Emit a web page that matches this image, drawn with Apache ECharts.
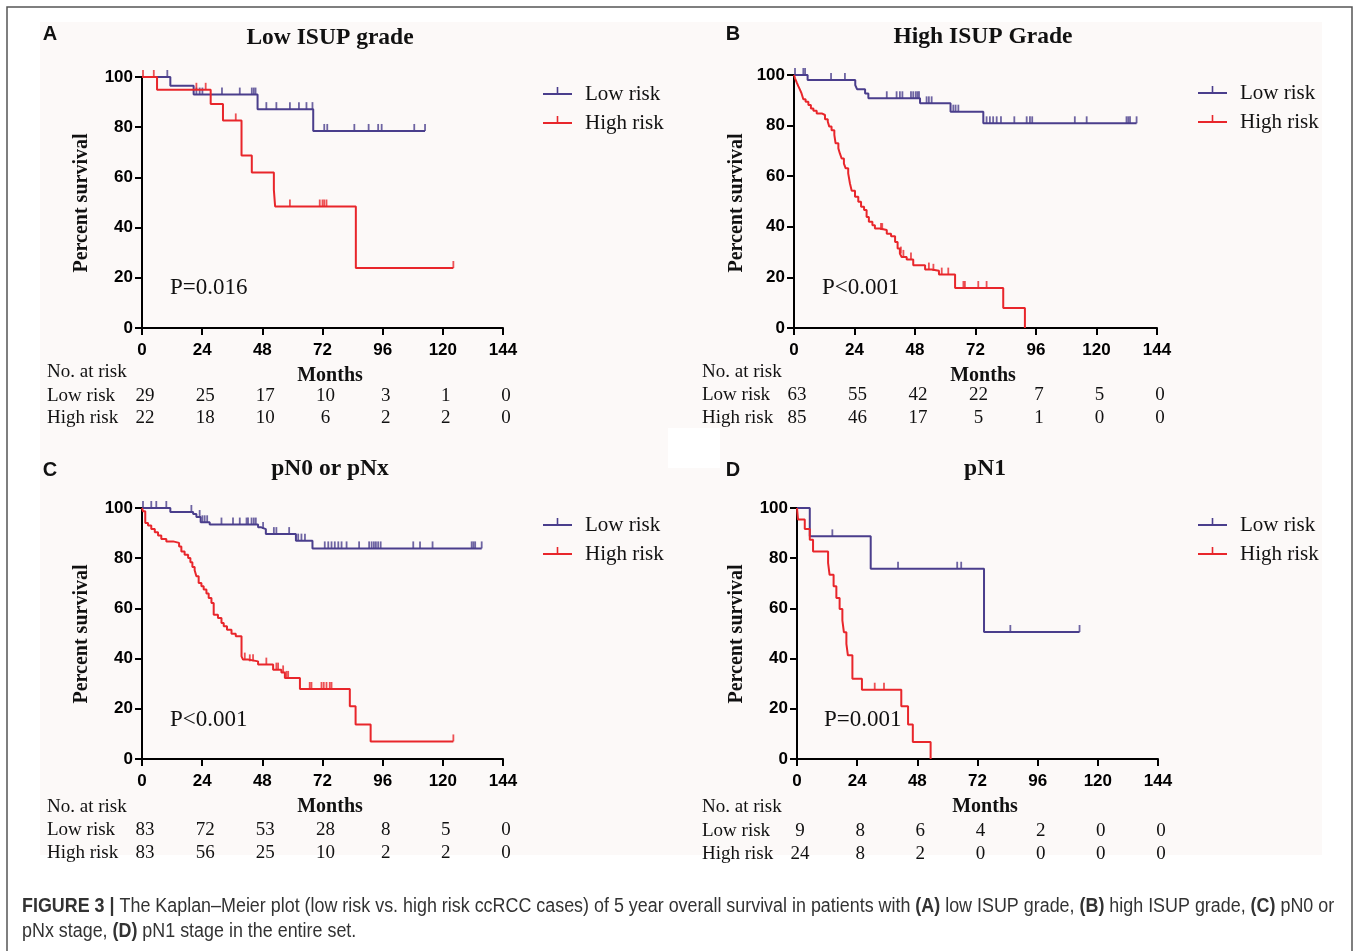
<!DOCTYPE html>
<html>
<head>
<meta charset="utf-8">
<script src="https://cdn.jsdelivr.net/npm/echarts@6/dist/echarts.min.js"></script>
<style>
  html, body { margin: 0; padding: 0; background: #fff; }
  #main { width: 1358px; height: 951px; }
</style>
</head>
<body>
<div id="main"></div>
<script>
// month ticks shared by all four panels
const monthTicks = [0, 24, 48, 72, 96, 120, 144];
const panelTitles = ["Low ISUP grade", "High ISUP Grade", "pN0 or pNx", "pN1"];
const panelLetters = ["A", "B", "C", "D"];
const pValues = ["P=0.016", "P<0.001", "P<0.001", "P=0.001"];

// A - low ISUP grade
const aLowT = [0, 11.3, 20.6, 46.1, 68.3, 112.9];
const aLowS = [100, 96.5, 93.0, 87.2, 78.5, 78.5];
const aLowCens = [10.1, 21.7, 23.0, 24.1, 31.9, 39.0, 43.8, 44.6, 45.3, 49.6, 53.6, 59.0, 62.6, 65.6, 68.0, 72.7, 73.9, 84.7, 90.4, 94.2, 95.6, 108.6, 112.9];
const aHighT = [0, 6.0, 27.4, 32.3, 39.7, 43.8, 52.6, 53.1, 85.3, 124.2];
const aHighS = [100, 94.9, 89.2, 82.7, 68.7, 62.0, 55.0, 48.4, 23.9, 23.9];
const aHighCens = [0.4, 4.7, 21.7, 25.4, 37.4, 59.0, 70.9, 72.0, 72.7, 73.6, 124.2];
const aRiskLow = [29, 25, 17, 10, 3, 1, 0];
const aRiskHigh = [22, 18, 10, 6, 2, 2, 0];

// B - high ISUP grade
const bLowT = [0, 5.4, 24.3, 25.0, 28.2, 29.5, 50.0, 62.1, 75.1, 135.9];
const bLowS = [100, 98.0, 96.0, 94.4, 92.7, 90.8, 88.8, 85.5, 80.9, 80.9];
const bLowCens = [0.4, 3.7, 4.4, 14.7, 20.2, 36.8, 40.7, 42.0, 43.0, 46.4, 47.3, 48.3, 49.0, 49.6, 52.6, 53.5, 54.6, 63.2, 64.1, 65.2, 76.4, 77.7, 79.0, 80.4, 82.1, 87.4, 92.3, 93.6, 94.5, 111.4, 116.1, 131.9, 132.6, 133.3, 135.9];
const bHighT = [0, 0.4, 1.1, 1.7, 2.4, 3.0, 3.7, 4.6, 5.7, 6.7, 7.7, 9.0, 11.0, 12.3, 13.4, 14.0, 14.9, 16.0, 16.5, 17.6, 18.2, 18.9, 19.8, 20.5, 21.5, 22.2, 22.9, 24.2, 25.5, 26.6, 27.8, 28.8, 29.7, 31.1, 32.1, 34.1, 36.8, 38.5, 40.1, 41.1, 42.0, 42.7, 44.7, 47.3, 52.0, 54.6, 57.5, 63.9, 83.0, 91.6];
const bHighS = [100, 98.7, 97.0, 95.6, 94.1, 92.7, 90.4, 89.4, 88.1, 86.8, 85.9, 84.8, 84.2, 82.5, 81.5, 79.6, 78.2, 76.3, 73.0, 71.0, 69.0, 67.0, 65.0, 63.1, 61.1, 57.1, 54.2, 51.9, 49.9, 47.9, 46.6, 43.9, 42.0, 40.6, 39.3, 38.7, 37.3, 36.3, 34.0, 31.4, 29.4, 28.1, 27.1, 24.8, 23.1, 22.6, 21.1, 15.8, 7.9, 0];
const bHighCens = [34.5, 35.0, 42.4, 43.4, 46.4, 53.5, 55.3, 58.6, 61.2, 67.2, 67.8, 73.1, 76.4];
const bRiskLow = [63, 55, 42, 22, 7, 5, 0];
const bRiskHigh = [85, 46, 17, 5, 1, 0, 0];

// C - pN0 or pNx
const cLowT = [0, 11.3, 20.4, 21.7, 23.4, 27.0, 46.3, 47.6, 49.4, 61.4, 68.0, 135.5];
const cLowS = [100, 98.4, 97.6, 96.4, 94.3, 93.4, 92.3, 91.6, 89.6, 87.0, 83.9, 83.9];
const cLowCens = [0.4, 3.7, 5.7, 9.7, 19.7, 23.0, 24.1, 25.0, 26.0, 31.7, 36.3, 39.0, 41.7, 42.3, 43.7, 44.6, 45.4, 48.3, 52.6, 53.6, 58.7, 62.3, 63.6, 65.0, 72.9, 74.3, 75.6, 76.9, 78.3, 79.6, 81.6, 86.6, 90.6, 91.6, 92.5, 93.3, 94.2, 95.2, 108.2, 110.9, 115.9, 131.5, 132.2, 132.9, 135.5];
const cHighT = [0, 0.4, 1.3, 2.4, 3.7, 5.1, 6.4, 7.7, 9.7, 12.4, 14.8, 15.7, 17.0, 18.4, 19.3, 20.1, 21.0, 21.7, 22.6, 23.7, 24.6, 25.7, 26.6, 27.7, 28.6, 30.3, 31.7, 32.6, 33.9, 35.7, 37.4, 39.7, 40.3, 42.3, 46.3, 52.3, 55.6, 57.0, 63.0, 82.9, 85.2, 91.2, 124.2];
const cHighS = [100, 98.7, 94.0, 93.0, 91.6, 90.3, 89.0, 87.6, 86.7, 86.1, 84.7, 82.7, 81.4, 80.1, 78.4, 76.5, 75.2, 72.8, 70.1, 68.8, 67.5, 65.9, 64.1, 62.2, 57.5, 56.2, 54.2, 52.9, 51.5, 49.9, 48.9, 40.9, 39.6, 38.9, 37.6, 35.6, 34.5, 32.3, 27.9, 21.0, 13.7, 7.0, 7.0];
const cHighCens = [41.0, 43.0, 44.3, 49.6, 53.6, 54.3, 56.3, 57.6, 58.3, 66.9, 67.6, 71.6, 72.5, 73.6, 74.9, 75.6, 124.2];
const cRiskLow = [83, 72, 53, 28, 8, 5, 0];
const cRiskHigh = [83, 56, 25, 10, 2, 2, 0];

// D - pN1
const dLowT = [0, 5.1, 29.4, 74.6, 112.7];
const dLowS = [100, 88.7, 75.8, 50.6, 50.6];
const dLowCens = [14.1, 40.3, 63.9, 65.5, 85.1, 112.7];
const dHighT = [0, 0.4, 3.1, 5.1, 6.4, 12.4, 13.0, 14.6, 15.7, 17.0, 18.1, 18.7, 19.7, 20.3, 22.1, 25.9, 41.6, 44.3, 46.2, 53.3];
const dHighS = [100, 95.4, 91.6, 87.4, 82.7, 78.1, 73.4, 68.8, 64.1, 59.8, 55.2, 50.5, 45.9, 41.3, 32.0, 27.6, 21.0, 13.7, 6.8, 0];
const dHighCens = [31.0, 34.7];
const dRiskLow = [9, 8, 6, 4, 2, 0, 0];
const dRiskHigh = [24, 8, 2, 0, 0, 0, 0];

const panels = [
  { low: [aLowT, aLowS, aLowCens], high: [aHighT, aHighS, aHighCens], risk: [aRiskLow, aRiskHigh] },
  { low: [bLowT, bLowS, bLowCens], high: [bHighT, bHighS, bHighCens], risk: [bRiskLow, bRiskHigh] },
  { low: [cLowT, cLowS, cLowCens], high: [cHighT, cHighS, cHighCens], risk: [cRiskLow, cRiskHigh] },
  { low: [dLowT, dLowS, dLowCens], high: [dHighT, dHighS, dHighCens], risk: [dRiskLow, dRiskHigh] },
];

const BLUE = "#4a3e8c";
const RED = "#e8262b";
const SERIF = "'Liberation Serif', 'Times New Roman', serif";
const SANS = "'Liberation Sans', Arial, sans-serif";

const grids = [
  { left: 142, top: 77, width: 361, height: 251 },
  { left: 794, top: 75, width: 363, height: 253 },
  { left: 142, top: 508, width: 361, height: 251 },
  { left: 797, top: 508, width: 361, height: 251 },
];

// where the texts of each panel sit
const layout = [
  { letter: [50, 34], title: [330, 38], legX: 543, legY: [94, 123], p: [170, 288], ylab: [82, 203], months: [330, 376], riskY: [372, 396, 418], riskX: 47 },
  { letter: [733, 34], title: [983, 37], legX: 1198, legY: [93, 122], p: [822, 288], ylab: [737, 203], months: [983, 376], riskY: [372, 395, 418], riskX: 702 },
  { letter: [50, 470], title: [330, 469], legX: 543, legY: [525, 554], p: [170, 720], ylab: [82, 634], months: [330, 807], riskY: [807, 830, 853], riskX: 47 },
  { letter: [733, 470], title: [985, 469], legX: 1198, legY: [525, 554], p: [824, 720], ylab: [737, 634], months: [985, 807], riskY: [807, 831, 854], riskX: 702 },
];

function levelAt(T, S, t) {
  let v = S[0];
  for (let i = 0; i < T.length; i++) if (T[i] <= t) v = S[i];
  return v;
}

const xAxes = [], yAxes = [], series = [];
grids.forEach((g, i) => {
  xAxes.push({
    gridIndex: i, type: "value", min: 0, max: 144, interval: 24,
    axisLine: { show: true, onZero: false, lineStyle: { color: "#000", width: 2 } },
    axisTick: { show: true, inside: false, length: 7, lineStyle: { color: "#000", width: 2 } },
    axisLabel: { color: "#000", fontFamily: SANS, fontWeight: "bold", fontSize: 17, margin: 14 },
    splitLine: { show: false },
  });
  yAxes.push({
    gridIndex: i, type: "value", min: 0, max: 100, interval: 20,
    axisLine: { show: true, onZero: false, lineStyle: { color: "#000", width: 2 } },
    axisTick: { show: true, inside: false, length: 7, lineStyle: { color: "#000", width: 2 } },
    axisLabel: { color: "#000", fontFamily: SANS, fontWeight: "bold", fontSize: 17, margin: 9 },
    splitLine: { show: false },
  });
  const p = panels[i];
  [[p.low, BLUE], [p.high, RED]].forEach(([c, col]) => {
    const [T, S, C] = c;
    series.push({
      type: "line", step: "end", xAxisIndex: i, yAxisIndex: i,
      data: T.map((t, k) => [t, S[k]]),
      showSymbol: false, clip: false, silent: true,
      lineStyle: { color: col, width: 2 },
      z: col === RED ? 4 : 3,
    });
    series.push({
      type: "scatter", xAxisIndex: i, yAxisIndex: i,
      data: C.map(t => [t, levelAt(T, S, t)]),
      symbol: "rect", symbolSize: [1.8, 7], symbolOffset: [0, -3.5],
      itemStyle: { color: col }, clip: false, silent: true,
      z: col === RED ? 4 : 3,
    });
  });
});

const graphic = [
  { type: "rect", shape: { x: 40, y: 22, width: 1282, height: 833 }, style: { fill: "#fcf9f8" }, z: -10 },
  { type: "rect", shape: { x: 668, y: 428, width: 52, height: 40 }, style: { fill: "#ffffff" }, z: -9 },
  { type: "rect", shape: { x: 7, y: 7, width: 1345, height: 960 }, style: { fill: "none", stroke: "#555", lineWidth: 1.5 }, z: -8 },
];

layout.forEach((L, i) => {
  const txt = (x, y, text, font, align) => graphic.push({
    type: "text", x, y,
    style: { text, font, fill: "#111", textAlign: align || "left", textVerticalAlign: "middle" },
  });
  txt(L.letter[0], L.letter[1], panelLetters[i], "bold 20px " + SANS, "center");
  txt(L.title[0], L.title[1], panelTitles[i], "bold 23.5px " + SERIF, "center");
  txt(L.p[0], L.p[1], pValues[i], "23px " + SERIF);
  txt(L.months[0], L.months[1], "Months", "bold 20px " + SERIF, "center");
  graphic.push({
    type: "text", x: L.ylab[0], y: L.ylab[1], rotation: Math.PI / 2,
    style: { text: "Percent survival", font: "bold 20px " + SERIF, fill: "#111", textAlign: "center", textVerticalAlign: "middle" },
  });
  // legend
  ["Low risk", "High risk"].forEach((name, k) => {
    const col = k === 0 ? BLUE : RED;
    const y = L.legY[k];
    graphic.push({ type: "line", shape: { x1: L.legX, y1: y, x2: L.legX + 29, y2: y }, style: { stroke: col, lineWidth: 2 } });
    graphic.push({ type: "line", shape: { x1: L.legX + 14.5, y1: y, x2: L.legX + 14.5, y2: y - 7 }, style: { stroke: col, lineWidth: 1.6 } });
    txt(L.legX + 42, y, name, "21px " + SERIF);
  });
  // number at risk labels
  txt(L.riskX, L.riskY[0], "No. at risk", "19px " + SERIF);
  txt(L.riskX, L.riskY[1], "Low risk", "19px " + SERIF);
  txt(L.riskX, L.riskY[2], "High risk", "19px " + SERIF);
});

// caption (condensed with scaleX, narrow sans is not installed)
const capFont = "20px " + SANS;
const capBold = { b: { font: "bold 20px " + SANS, fill: "#333" } };
graphic.push({
  type: "text", x: 22, y: 906, scaleX: 0.895,
  style: {
    text: "{b|FIGURE 3 |} The Kaplan\u2013Meier plot (low risk vs. high risk ccRCC cases) of 5 year overall survival in patients with {b|(A)} low ISUP grade, {b|(B)} high ISUP grade, {b|(C)} pN0 or",
    font: capFont, fill: "#333", textVerticalAlign: "middle", rich: capBold,
  },
});
graphic.push({
  type: "text", x: 22, y: 931, scaleX: 0.895,
  style: {
    text: "pNx stage, {b|(D)} pN1 stage in the entire set.",
    font: capFont, fill: "#333", textVerticalAlign: "middle", rich: capBold,
  },
});

const chart = echarts.init(document.getElementById("main"));
chart.setOption({
  animation: false,
  backgroundColor: "#fff",
  grid: grids,
  xAxis: xAxes,
  yAxis: yAxes,
  series,
  graphic,
});

// number-at-risk values placed under the month ticks through the axis scale
const riskText = [];
panels.forEach((p, i) => {
  const L = layout[i];
  p.risk.forEach((row, r) => {
    row.forEach((n, k) => {
      const x = chart.convertToPixel({ xAxisIndex: i }, monthTicks[k]) + 3;
      riskText.push({
        type: "text", x, y: L.riskY[r + 1],
        style: { text: String(n), font: "19px " + SERIF, fill: "#111", textAlign: "center", textVerticalAlign: "middle" },
      });
    });
  });
});
chart.setOption({ graphic: graphic.concat(riskText) });
</script>
</body>
</html>
